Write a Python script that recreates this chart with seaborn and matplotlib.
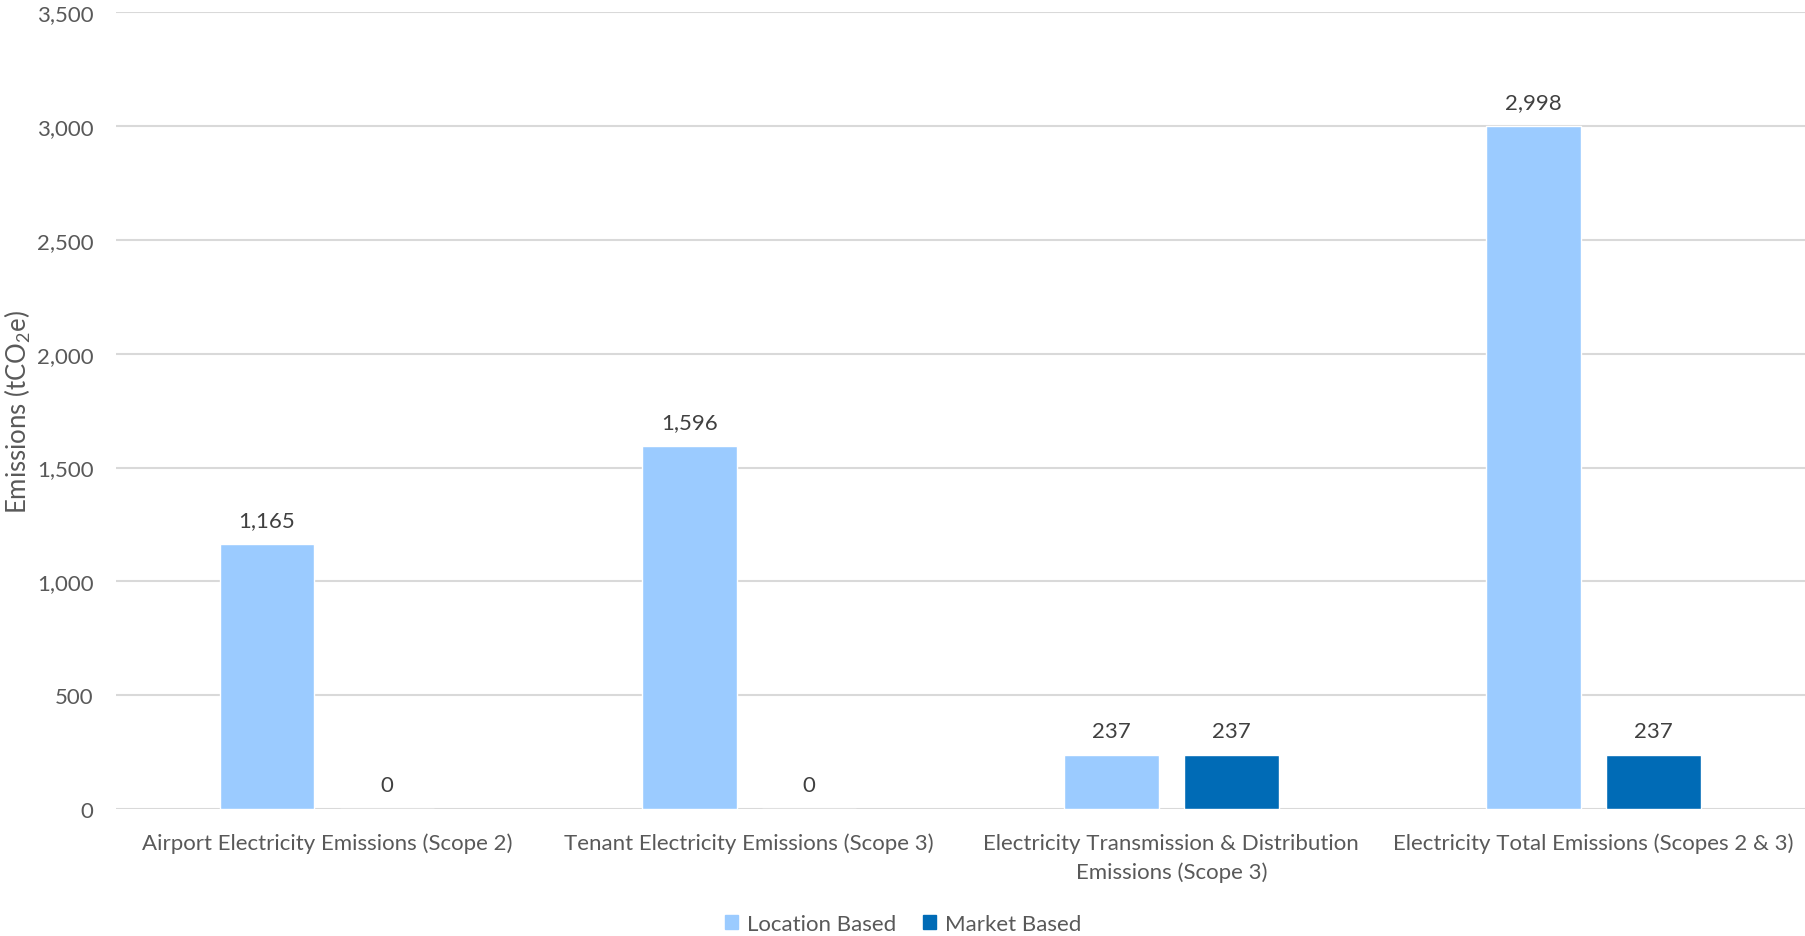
import matplotlib
matplotlib.use("Agg")
import matplotlib.pyplot as plt
import seaborn as sns
import pandas as pd
from matplotlib.ticker import FuncFormatter, MultipleLocator

categories = [
    "Airport Electricity Emissions (Scope 2)",
    "Tenant Electricity Emissions (Scope 3)",
    "Electricity Transmission & Distribution\nEmissions (Scope 3)",
    "Electricity Total Emissions (Scopes 2 & 3)",
]
series_names = ["Location Based", "Market Based"]
location_based = [1165, 1596, 237, 2998]
market_based = [0, 0, 237, 237]
colors = ["#9BCBFF", "#006BB6"]

df = pd.DataFrame({
    "Category": categories * 2,
    "Type": [series_names[0]] * 4 + [series_names[1]] * 4,
    "Emissions": location_based + market_based,
})

sns.set_theme(style="white")
plt.rcParams["font.family"] = ["Lato", "DejaVu Sans"]
plt.rcParams["mathtext.fontset"] = "custom"
plt.rcParams["mathtext.rm"] = "Lato"
plt.rcParams["mathtext.it"] = "Lato"

fig = plt.figure(figsize=(18.06, 9.37), dpi=100)
ax = fig.add_axes([0.0642, 0.1355, 0.935, 0.8505])

sns.barplot(
    data=df, x="Category", y="Emissions", hue="Type",
    palette=colors, width=0.568, gap=0.21, ax=ax, legend=False,
    saturation=1,
)

for cont in ax.containers:
    ax.bar_label(
        cont,
        labels=[f"{v:,.0f}" for v in cont.datavalues],
        padding=10, fontsize=16, color="#404040",
    )

ax.set_ylim(0, 3500)
ax.yaxis.set_major_locator(MultipleLocator(500))
ax.yaxis.set_major_formatter(FuncFormatter(lambda v, p: f"{v:,.0f}"))
ax.grid(axis="y", color="#D9D9D9", linewidth=1.5)
ax.set_axisbelow(True)
for s in ax.spines.values():
    s.set_visible(False)
ax.tick_params(axis="both", length=0, labelsize=16, colors="#595959")
ax.tick_params(axis="y", pad=16)
ax.tick_params(axis="x", pad=17)
for lbl in ax.get_xticklabels():
    lbl.set_linespacing(1.55)
ax.set_xlabel("")
ax.set_ylabel("Emissions (tCO$_2$e)", fontsize=18.5, color="#595959")
ax.yaxis.set_label_coords(-0.049, 0.5)

handles = [plt.Rectangle((0, 0), 1, 1, color=c) for c in colors]
fig.legend(
    handles, series_names, loc="center", bbox_to_anchor=(0.5, 0.013),
    ncol=2, frameon=False, fontsize=16, labelcolor="#595959",
    handlelength=0.6, handleheight=0.6, handletextpad=0.4, columnspacing=1.2,
)

fig.savefig("out.png", dpi=100, facecolor="white")
